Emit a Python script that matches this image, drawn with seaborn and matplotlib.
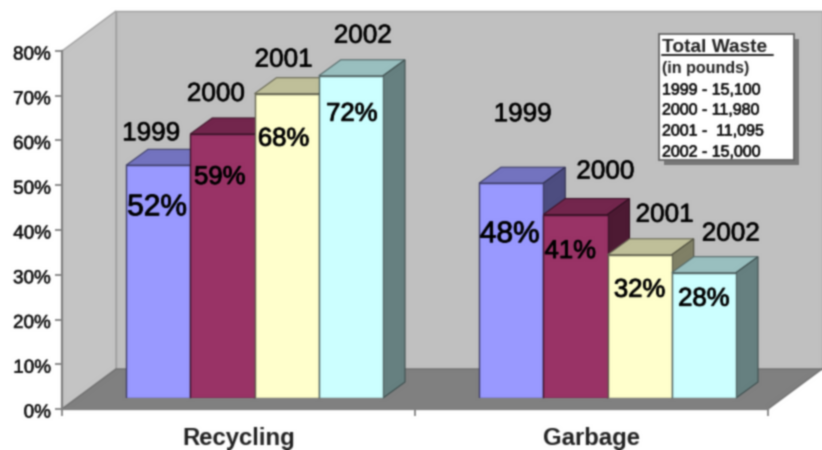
import matplotlib
matplotlib.use("Agg")
import matplotlib.pyplot as plt
import matplotlib.patheffects as pe
import numpy as np
import pandas as pd
import seaborn as sns
from matplotlib.patches import Polygon, Rectangle
from matplotlib.transforms import Affine2D, IdentityTransform

# Share of household waste by stream and year
streams = ["Recycling", "Garbage"]
years = ["1999", "2000", "2001", "2002"]
recycling_pct = [52, 59, 68, 72]
garbage_pct = [48, 41, 32, 28]
waste_title = "Total Waste"
waste_unit = "(in pounds)"
waste_lines = ["1999 - 15,100", "2000 - 11,980", "2001 -  11,095", "2002 - 15,000"]

colors = ["#9999FF", "#993366", "#FFFFCC", "#CCFFFF"]

W, H = 822, 450
FONT = "Liberation Sans"
sns.set_style("white")
plt.rcParams["font.family"] = [FONT, "DejaVu Sans"]

records = []
for stream, series in zip(streams, [recycling_pct, garbage_pct]):
    for year, pct in zip(years, series):
        records.append({"stream": stream, "year": year, "pct": pct})
df = pd.DataFrame(records)

fig = plt.figure(figsize=(W / 100, H / 100), dpi=100, facecolor="white")


def heavier(width):
    # Thickens regular glyphs a little without changing their advance widths
    return [pe.withStroke(linewidth=width, foreground="black")]


def px_axes(left, top, right, bottom, **kw):
    return fig.add_axes(
        [left / W, 1 - bottom / H, (right - left) / W, (bottom - top) / H], **kw
    )


# Front plane carries the value axis and the category axis
ax = px_axes(62, 51, 768, 409)
ax.set_xlim(-0.5, 1.5)
ax.set_ylim(0, 80)
ax.patch.set_visible(False)
ax.set_yticks(range(0, 81, 10))
ax.set_yticklabels([f"{v}%" for v in range(0, 81, 10)], fontsize=13.6, color="#111111")
ax.set_xticks([-0.5, 0.5, 1.5])
ax.set_xticklabels([])
ax.tick_params(axis="both", length=5, width=1.3, color="#808080", pad=3, left=True, bottom=True)
for tick_label in ax.get_yticklabels():
    tick_label.set_transform(tick_label.get_transform() + Affine2D().translate(0, -2))
    tick_label.set_path_effects(heavier(0.3))
for name, spine in ax.spines.items():
    spine.set_visible(name in ("left", "bottom"))
    spine.set_color("#808080")
    spine.set_linewidth(1.6)
for pos, label in zip([0, 1], streams):
    ax.annotate(label, (pos, 0), xytext=(0, -30), textcoords="offset pixels",
                ha="center", va="center", fontsize=17.2, fontweight="bold", color="#222222")

# Wall and floor panels, receding from the front plane
DEPTH_X, DEPTH_Y = 54, 40
x0, y0 = ax.transData.transform((-0.5, 0))
x1, y1 = ax.transData.transform((1.5, 80))
none = IdentityTransform()


def panel(points, color, z, edge="#A0A0A0"):
    fig.add_artist(Polygon(points, closed=True, facecolor=color, edgecolor=edge,
                           linewidth=1.0, transform=none, zorder=z))


panel([(x0 + DEPTH_X, y0 + DEPTH_Y), (x0 + DEPTH_X, y1 + DEPTH_Y),
       (x1 + DEPTH_X, y1 + DEPTH_Y), (x1 + DEPTH_X, y0 + DEPTH_Y)], "#C0C0C0", -5)
panel([(x0, y0), (x0, y1), (x0 + DEPTH_X, y1 + DEPTH_Y), (x0 + DEPTH_X, y0 + DEPTH_Y)],
      "#C4C4C4", -4)
panel([(x0, y0), (x0 + DEPTH_X, y0 + DEPTH_Y), (x1 + DEPTH_X, y0 + DEPTH_Y), (x1, y0)],
      "#808080", -3, edge="#707070")

# Bars stand a little behind the front plane
bar_ax = px_axes(62 + 16, 51 - 11, 768 + 16, 409 - 11)
bar_ax.patch.set_visible(False)
sns.barplot(data=df, x="stream", y="pct", hue="year", order=streams, hue_order=years,
            palette=colors, width=0.728, gap=0, saturation=1, dodge=True,
            edgecolor="#3A3A3A", linewidth=1.0, legend=False, ax=bar_ax)
bar_ax.set_xlim(-0.5, 1.5)
bar_ax.set_ylim(0, 80)
bar_ax.axis("off")
ax.set_zorder(3)
bar_ax.set_zorder(2)

BAR_DX, BAR_DY = 22, 16


def shade(hex_color, f):
    r, g, b = matplotlib.colors.to_rgb(hex_color)
    return (r * f, g * f, b * f)


rects = sorted(bar_ax.patches, key=lambda p: p.get_x())
rect_colors = [colors[i] for i in range(4)] * 2
for n, rect in enumerate(rects):
    z = 10 + 2 * n
    rect.set_zorder(z + 1)
    xa, xb = rect.get_x(), rect.get_x() + rect.get_width()
    (pxa, py0), (pxb, py1) = bar_ax.transData.transform([(xa, 0), (xb, rect.get_height())])
    base = rect_colors[n]
    edge = shade(base, 0.4)
    rect.set_edgecolor(edge)
    bar_ax.add_patch(Polygon(
        [(pxa, py1), (pxb, py1), (pxb + BAR_DX, py1 + BAR_DY), (pxa + BAR_DX, py1 + BAR_DY)],
        facecolor=shade(base, 0.75), edgecolor=edge, linewidth=0.8, transform=none, zorder=z, clip_on=False))
    bar_ax.add_patch(Polygon(
        [(pxb, py0), (pxb, py1), (pxb + BAR_DX, py1 + BAR_DY), (pxb + BAR_DX, py0 + BAR_DY)],
        facecolor=shade(base, 0.5), edgecolor=shade(base, 0.3), linewidth=0.8, transform=none, zorder=z, clip_on=False))

# Label offsets from the top-centre of each bar, in pixels
pct_offsets = [(-1, -42), (-2.5, -43), (-3, -45), (1, -38), (-1.5, -51), (-5, -36.5), (0, -35), (0, -26)]
pct_sizes = [21.5, 18.5, 18.5, 18.5, 21.5, 18.5, 18.5, 18.5]
year_offsets = [(-7, 32), (-6.5, 40), (-3, 34), (12, 40), (11.5, 69), (30, 43), (25, 40), (27, 39)]
all_pct = recycling_pct + garbage_pct
all_years = years * 2
for n, rect in enumerate(rects):
    cx = rect.get_x() + rect.get_width() / 2
    pct_label = bar_ax.annotate(f"{all_pct[n]}%", (cx, all_pct[n]), xytext=pct_offsets[n], textcoords="offset pixels",
                                ha="center", va="center", fontsize=pct_sizes[n],
                                color="black", zorder=40, annotation_clip=False)
    pct_label.set_path_effects(heavier(0.6))
    year_label = bar_ax.annotate(all_years[n], (cx, all_pct[n]), xytext=year_offsets[n], textcoords="offset pixels",
                                 ha="center", va="center", fontsize=18.8, color="black", zorder=40,
                                 annotation_clip=False)
    year_label.set_path_effects(heavier(0.4))

# Total waste note
fig.add_artist(Rectangle((664 / W, 1 - 165 / H), 135 / W, 126 / H, transform=fig.transFigure,
                         facecolor="#777777", edgecolor="none", zorder=50))
fig.add_artist(Rectangle((659 / W, 1 - 160 / H), 135 / W, 126 / H, transform=fig.transFigure,
                         facecolor="white", edgecolor="#666666", linewidth=1.3, zorder=51))
fig.text(662 / W, 1 - 47 / H, waste_title, fontsize=13.8, fontweight="bold", va="center", color="#222222", zorder=52)
fig.add_artist(plt.Line2D([662 / W, 773 / W], [1 - 55 / H, 1 - 55 / H], color="#222222", linewidth=1.4, zorder=52))
fig.text(662 / W, 1 - 69 / H, waste_unit, fontsize=11.5, fontweight="bold", va="center", color="#222222", zorder=52)
for line, ypx in zip(waste_lines, [90, 110, 131, 152]):
    note = fig.text(662 / W, 1 - ypx / H, line, fontsize=11.5, va="center", color="#111111", zorder=52)
    note.set_path_effects(heavier(0.4))

# Render, then soften slightly with a small Gaussian kernel to suit the low-resolution look
fig.canvas.draw()
pixels = np.asarray(fig.canvas.buffer_rgba())[..., :3].astype(float)
kernel = np.exp(-0.5 * (np.arange(-3, 4) / 0.8) ** 2)
kernel /= kernel.sum()
for axis in (0, 1):
    pixels = np.apply_along_axis(lambda v: np.convolve(np.pad(v, 3, mode="edge"), kernel, mode="valid"), axis, pixels)
plt.imsave("out.png", np.clip(pixels, 0, 255).astype(np.uint8))
